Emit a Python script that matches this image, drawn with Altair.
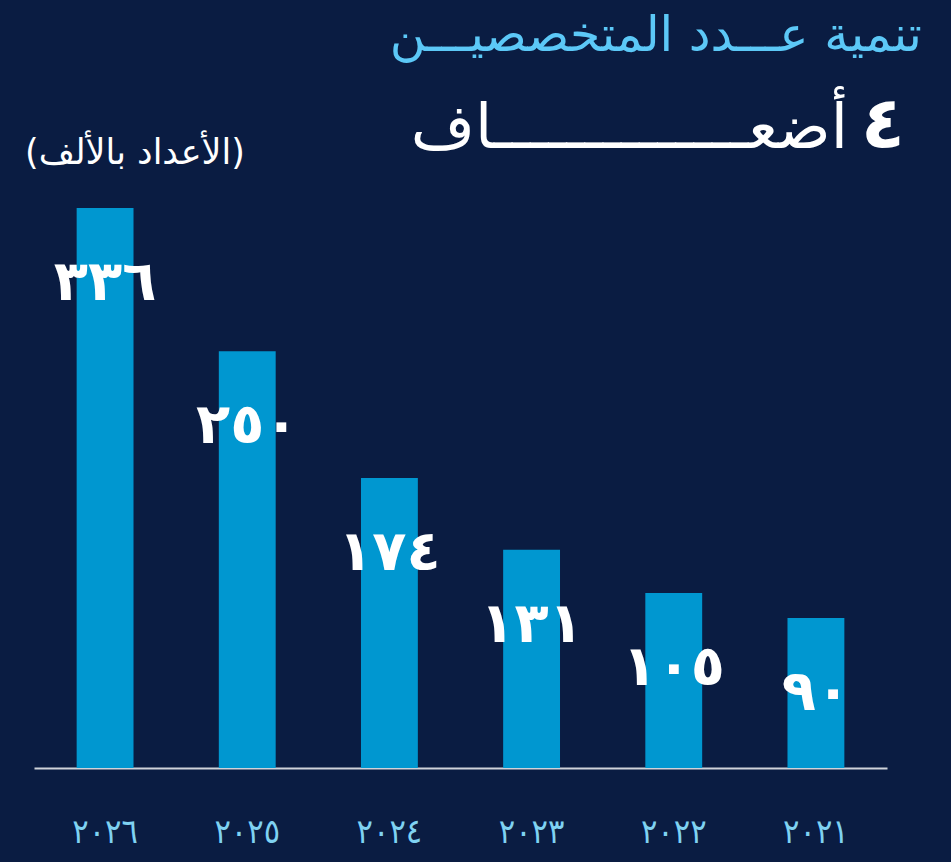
import altair as alt
import pandas as pd

years = ["٢٠٢٦", "٢٠٢٥", "٢٠٢٤", "٢٠٢٣", "٢٠٢٢", "٢٠٢١"]
values = [336, 250, 174, 131, 105, 90]
digits = str.maketrans("0123456789", "٠١٢٣٤٥٦٧٨٩")
labels = [str(v).translate(digits) for v in values]

title_line1 = "تنمية عـــدد المتخصصيـــن"
title_num = "٤"
title_word = "أضعــــــــــــــاف"
unit_note = "(الأعداد بالألف)"

BG = "#0a1c42"
BAR = "#0097d0"
FONT = "DejaVu Sans"

df = pd.DataFrame({"year": years, "value": values, "label": labels})

x = alt.X("year:N", sort=years, scale=alt.Scale(paddingInner=0.6, paddingOuter=0.3),
          axis=alt.Axis(title=None, ticks=False, domainColor="#cfd3da", domainWidth=2,
                        labelColor="#7fd2f2", labelFontSize=34, labelFont="DejaVu Sans Condensed",
                        labelPadding=64, labelAngle=0, labelBaseline="middle"))
y = alt.Y("value:Q", scale=alt.Scale(domain=[0, 336], nice=False), axis=None)

base = alt.Chart(df)
bars = base.mark_bar(color=BAR).encode(x=x, y=y)
text = base.mark_text(color="white", fontSize=56, fontWeight="bold", font=FONT,
                      baseline="alphabetic", dy=92).encode(x=x, y=y, text="label:N")

def label_layer(t, xv, yv, size, color, align, weight="normal", baseline="middle"):
    return alt.Chart(pd.DataFrame({"t": [t]})).mark_text(
        color=color, fontSize=size, fontWeight=weight, font=FONT, align=align, baseline=baseline
    ).encode(text="t:N", x=alt.value(xv), y=alt.value(yv))

t1 = label_layer(title_line1, 888, -172, 49, "#5cc8f7", "right")
t2 = label_layer(title_num, 871, -60, 72, "white", "right", "bold", "alphabetic")
t3 = label_layer(title_word, 814, -60, 62, "white", "right", "normal", "alphabetic")
t4 = label_layer(unit_note, -9, -55, 35, "white", "left")

chart = alt.layer(bars, text, t1, t2, t3, t4).properties(
    width=853, height=560,
    autosize=alt.AutoSizeParams(type="none"),
    padding={"left": 34, "top": 208, "right": 64, "bottom": 94},
    background=BG,
).configure_view(stroke=None)

chart.save("out.html", embed_options={"renderer": "svg", "actions": False})
